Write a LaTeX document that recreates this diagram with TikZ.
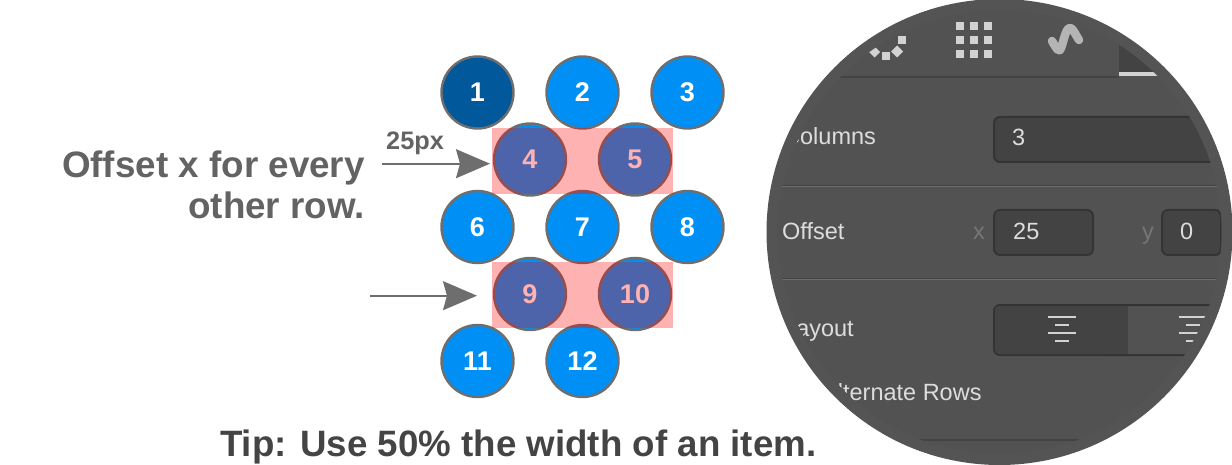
\documentclass[tikz,border=0pt]{standalone}
\usepackage{fontspec}
\setmainfont{Liberation Sans}
\usetikzlibrary{arrows.meta}
\definecolor{itemblue}{HTML}{0090F5}
\definecolor{itemdark}{HTML}{01589B}
\definecolor{itemedge}{HTML}{6E6E6E}
\definecolor{txtgray}{HTML}{636363}
\definecolor{tipgray}{HTML}{444444}
\definecolor{lensouter}{HTML}{545454}
\definecolor{lensinner}{HTML}{525252}
\definecolor{fieldfill}{HTML}{434343}
\definecolor{fieldedge}{HTML}{343434}
\definecolor{uitext}{HTML}{DDDDDD}
\definecolor{uimuted}{HTML}{767676}
\definecolor{iconfill}{HTML}{D2D2D2}
\definecolor{wavefill}{HTML}{B4B4B4}
\tikzset{
  item/.style={circle,draw=itemedge,line width=2.4pt,fill=itemblue,text=white,
    minimum size=72pt,inner sep=0pt,outer sep=0pt,
    font=\fontsize{27}{27}\selectfont\bfseries},
  overlay/.style={fill=red,fill opacity=.3,draw=none,inner sep=0pt,outer sep=0pt,
    minimum width=181.6pt,minimum height=65.6pt},
  pointer/.style={draw=itemedge,line width=2pt,
    -{Stealth[length=34pt,width=29pt,inset=4pt,fill=itemedge]}},
  headline/.style={text=txtgray,font=\fontsize{36.8}{36.8}\selectfont\bfseries,inner sep=0pt,anchor=base east},
  uilabel/.style={text=uitext,font=\fontsize{23.5}{23.5}\selectfont,inner sep=0pt,anchor=base west},
  uimute/.style={uilabel,text=uimuted},
  field/.style={fill=fieldfill,draw=fieldedge,line width=2pt,rounded corners=6pt},
  divider/.style={draw=fieldfill,line width=1.5pt},
  dividerlow/.style={draw=itemedge,line width=1pt},
  iconbar/.style={draw=iconfill,line width=2.2pt},
  gridsq/.style={fill=iconfill,draw=none},
}
\begin{document}
\begin{tikzpicture}[x=1pt,y=-1pt]
\useasboundingbox (0,0) rectangle (1232,465);
% lens
\fill[lensouter] (999.5,232) circle[radius=233pt];
\begin{scope}
  \clip (999.5,232) circle[radius=222pt];
  \fill[lensinner] (999.5,232) circle[radius=222pt];
  % tab bar
  \fill[fieldfill] (1119,20) rectangle (1175,72);
  \fill[iconfill] (1119,72) rectangle (1175,76);
  \draw[divider] (780,77) -- (1119,77);
  % icons
  \foreach \gx in {955.7,969.7,983.5}\foreach \gy in {22,36,50}
    \fill[gridsq] (\gx,\gy) rectangle ++(8,8);
  \fill[gridsq] (897.5,36) rectangle ++(8,8);
  \fill[gridsq] (881.7,52) rectangle ++(8,8);
  \fill[gridsq] (874.5,46.5) -- (880,52) -- (874.5,57.5) -- (869,52) -- cycle;
  \fill[gridsq] (897,45.5) -- (903,51.5) -- (897,57.5) -- (891,51.5) -- cycle;
  \draw[line width=8.5pt,color=wavefill,line cap=round,line join=round]
    (1052,41) .. controls (1055,46) and (1058,52) .. (1060,50)
    .. controls (1063,46) and (1065,28) .. (1070,28)
    .. controls (1073,28) and (1075,34) .. (1079,40);
  % fields
  \draw[field] (994,117) rectangle (1260,162);
  \draw[field] (994,210) rectangle (1093,255);
  \draw[field] (1162,210) rectangle (1221,255);
  \clip (760,0) rectangle (1221,465);
  \draw[divider] (770,185.5) -- (1230,185.5);
  \draw[dividerlow] (770,187) -- (1230,187);
  \draw[divider] (770,278.5) -- (1230,278.5);
  \draw[dividerlow] (770,280) -- (1230,280);
  % layout segmented control
  \draw[field,fill=lensinner] (994,305) rectangle (1260,355);
  \fill[fieldfill,rounded corners=6pt] (995,306) rectangle (1110,354);
  \fill[fieldfill] (1100,306) rectangle (1128,354);
  \draw[divider,line width=2pt] (915,439.5) -- (1085,439.5);
  \foreach \cx in {1061.7,1193}{
    \draw[iconbar] (\cx-14,316.7) -- (\cx+14,316.7);
    \draw[iconbar] (\cx-7,325) -- (\cx+7,325);
    \draw[iconbar] (\cx-14,332.7) -- (\cx+14,332.7);
    \draw[iconbar] (\cx-7,340.7) -- (\cx+7,340.7);
  }
  % labels
  \node[uilabel] (lcols) at (783,145) {Columns};
  \node[uilabel] (lcolsv) at (1012,146) {3};
  \node[uilabel] (loff) at (782,240) {Offset};
  \node[uimute] (lx) at (973,240) {x};
  \node[uilabel] (loffx) at (1013,240) {25};
  \node[uimute] (ly) at (1142,240) {y};
  \node[uilabel] (loffy) at (1180,240) {0};
  \node[uilabel] (llay) at (783,336) {Layout};
  \node[uilabel] (lalt) at (822,400) {Alternate Rows};
\end{scope}
% items
\node[item,fill=itemdark] (c1) at (477.5,92.5) {1};
\node[item] (c2) at (582.5,92.5) {2};
\node[item] (c3) at (687.5,92.5) {3};
\node[item] (c4) at (530,159.5) {4};
\node[item] (c5) at (635,159.5) {5};
\node[item] (c6) at (477.5,227) {6};
\node[item] (c7) at (582.5,227) {7};
\node[item] (c8) at (687.5,227) {8};
\node[item] (c9) at (530,294) {9};
\node[item] (c10) at (635,294) {10};
\node[item] (c11) at (477.5,361) {11};
\node[item] (c12) at (582.5,361) {12};
% overlays
\node[overlay] (rowa) at (582.5,160.8) {};
\node[overlay] (rowb) at (582.5,295) {};
% arrows
\coordinate (aone) at (382,163.7);
\coordinate (atwo) at (370,295.7);
\draw[pointer,shorten >=1.7pt] (aone) -- (aone -| rowa.west);
\draw[pointer,shorten >=14.7pt] (atwo) -- (atwo -| rowb.west);
% texts
\node[text=txtgray,font=\fontsize{25.3}{25.3}\selectfont\bfseries,inner sep=0pt,anchor=base west] (lbl) at (386,150) {25px};
\node[headline] (heada) at (365,177.3) {Offset x for every};
\node[headline] (headb) at (365,218.3) {other row.};
\node[text=tipgray,font=\fontsize{36.7}{36.7}\selectfont\bfseries,inner sep=0pt,anchor=base west] (tip) at (220,456.5) {Tip: Use 50\% the width of an item.};
\end{tikzpicture}
\end{document}
